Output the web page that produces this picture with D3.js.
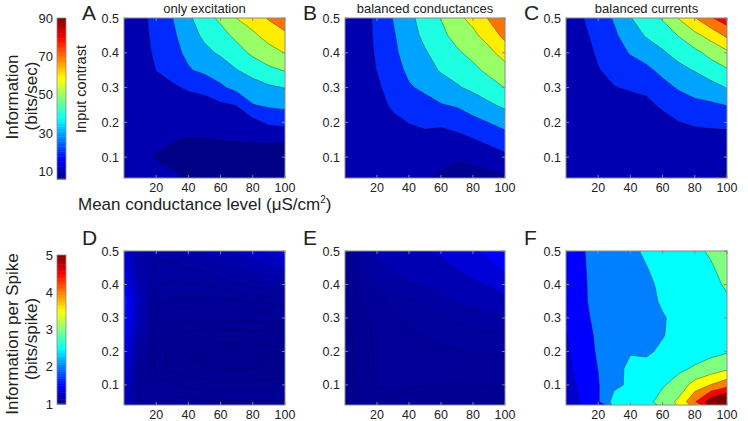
<!DOCTYPE html>
<html><head><meta charset="utf-8">
<script src="https://cdn.jsdelivr.net/npm/d3@7"></script>
<style>
body{margin:0;background:#fff}
svg{display:block}
text{font-family:"Liberation Sans",Arial,sans-serif;fill:#222}
</style>
</head><body>
<svg id="c" width="748" height="421"></svg>
<script>
// ---------------- data ----------------
const xGrid = [0,10,20,30,40,50,60,70,80,90,100];           // mean conductance (uS/cm2)
const yGrid = [0.05,0.1,0.15,0.2,0.25,0.3,0.35,0.4,0.45,0.5]; // input contrast
// each inner array = one x column, values from y=0.05 up to y=0.5
const rateExcitation = [
  [11.5,11.5,11.5,11.5,11.5,11.5,11.5,12,12,12],
  [12,11.5,12,12.5,13,13.5,15,16.5,17,17],
  [11.5,9.8,11,13,15,17,20.2,21.5,22.5,23.5],
  [10.8,8.5,10.5,13,15.5,19,22.5,26.5,28,29.8],
  [9.5,8.2,9.6,13,16.5,21,29,32.5,35.5,38],
  [6.5,8,9.7,13.5,17.5,22,32.5,37.5,42,46],
  [6.5,8,10.2,14,18.5,28.5,34.5,41.5,46.5,52],
  [6.5,8,10.3,15,20.4,33,39.7,46,52.5,60.2],
  [6.5,8,10.5,17,29.6,36,43.5,52,58,65],
  [7,8,10.5,22,31.5,38.5,48,56,64,71],
  [7,8,10.5,23,32.6,40.3,50.6,60.3,68,76]
];
const rateConductances = [
  [12,12,12,12,12,12,12,12,12,12],
  [11.5,12,12.5,13,13.5,14,14,14,14,14],
  [12,13,14,15.5,17,18.5,20.3,21.5,22.5,23],
  [12,13.5,15.5,18,21.5,24,26,28,29,30.3],
  [12,14,17,20.3,24.5,29,32,34,35.5,37],
  [11,13,17,22,26.5,32,36,39,42.5,45],
  [9.5,12,16.5,21.5,29.5,35,41,44.5,47.5,50.3],
  [7.5,11,17,24,31,39,43.5,48.5,53.5,58],
  [7.5,12.5,19.5,27,35,42,47.5,53,58,62.5],
  [8.5,15,22.5,30.2,38.5,45.5,52.5,57.5,64,71],
  [10.2,18,25.5,33.5,42,50.2,56.5,64,73,79]
];
const rateCurrents = [
  [11,11,11,11,11,11,11,11,11,11],
  [11,11,11.5,12,12.5,13.5,14.5,16,17.5,19.5],
  [11,11.5,12,13,14.5,16.5,19.5,21.5,23.5,25],
  [11,11.5,12.5,14,16.5,19.7,23,26,28.5,31],
  [10.5,11.5,12.5,14,16.5,21,25.5,30.7,35,39.5],
  [10.5,11.5,12.5,14.5,17.5,22.5,28,34,41,46],
  [10.5,11.5,13,16,22,27,32.5,39,44,51],
  [10.5,12,14.5,19.8,25,31,37.5,43,50.5,60.5],
  [10.5,12,15.5,21.5,27.5,34,40.5,47.5,57.5,69.5],
  [10.3,12,15.5,22.5,28.5,36.5,45,53,63.5,79],
  [9.5,11.5,15,23.5,30.3,40.3,49,58,72,86]
];
const spikeExcitation = [
  [1.3,1.34,1.4,1.48,1.56,1.64,1.68,1.58,1.45,1.35],
  [1.12,1.11,1.125,1.15,1.19,1.25,1.26,1.22,1.18,1.17],
  [1.10,1.09,1.08,1.082,1.09,1.10,1.11,1.122,1.13,1.15],
  [1.10,1.086,1.072,1.07,1.078,1.09,1.10,1.118,1.13,1.155],
  [1.098,1.082,1.068,1.063,1.072,1.087,1.10,1.118,1.141,1.18],
  [1.097,1.08,1.066,1.061,1.07,1.087,1.10,1.121,1.145,1.21],
  [1.096,1.079,1.064,1.06,1.07,1.087,1.102,1.125,1.165,1.24],
  [1.096,1.079,1.064,1.06,1.07,1.088,1.104,1.135,1.19,1.26],
  [1.096,1.079,1.064,1.06,1.071,1.089,1.106,1.145,1.22,1.28],
  [1.096,1.08,1.066,1.061,1.072,1.09,1.108,1.152,1.24,1.33],
  [1.096,1.08,1.066,1.062,1.073,1.091,1.11,1.158,1.26,1.42]
];
const spikeConductances = [
  [1.060,1.062,1.063,1.064,1.066,1.068,1.070,1.071,1.072,1.073],
  [1.078,1.082,1.083,1.084,1.086,1.09,1.10,1.11,1.13,1.16],
  [1.086,1.097,1.098,1.098,1.10,1.10,1.11,1.13,1.17,1.22],
  [1.088,1.099,1.102,1.104,1.106,1.11,1.12,1.16,1.23,1.27],
  [1.086,1.097,1.101,1.106,1.112,1.12,1.13,1.19,1.25,1.29],
  [1.084,1.096,1.102,1.108,1.116,1.122,1.14,1.21,1.27,1.34],
  [1.083,1.094,1.103,1.112,1.12,1.13,1.18,1.24,1.30,1.38],
  [1.083,1.094,1.104,1.114,1.122,1.14,1.21,1.27,1.36,1.42],
  [1.083,1.094,1.105,1.116,1.125,1.16,1.23,1.32,1.41,1.48],
  [1.083,1.096,1.106,1.117,1.128,1.18,1.25,1.36,1.46,1.54],
  [1.083,1.096,1.107,1.118,1.13,1.19,1.31,1.42,1.53,1.62]
];
const spikeCurrents = [
  [1.3,1.32,1.36,1.42,1.48,1.55,1.6,1.62,1.62,1.62],
  [1.55,1.62,1.75,1.8,1.8,1.8,1.8,1.8,1.85,1.9],
  [1.95,1.97,2.01,2.05,2.09,2.2,2.4,2.45,2.45,2.43],
  [2.7,2.4,2.35,2.3,2.3,2.3,2.3,2.3,2.3,2.3],
  [2.75,2.58,2.6,2.47,2.45,2.4,2.35,2.35,2.38,2.42],
  [2.85,2.75,2.6,2.45,2.4,2.38,2.38,2.4,2.49,2.56],
  [3.2,2.95,2.75,2.56,2.48,2.47,2.55,2.6,2.62,2.65],
  [3.6,3.2,2.9,2.7,2.62,2.6,2.62,2.66,2.7,2.75],
  [4.45,3.7,3.05,2.8,2.7,2.7,2.72,2.78,2.85,2.92],
  [5.3,4.02,3.2,2.88,2.8,2.8,2.85,2.9,2.96,3.05],
  [5.8,4.3,3.4,2.95,2.85,2.88,2.95,3.05,3.15,3.25]
];
// contour levels
const rateLevels = [10,20,30,40,50,60,70,80];
const spikeLevelsExc = [1.065,1.075,1.085,1.095,1.105,1.12,1.14,1.16,1.2,1.25,1.3,1.4,1.5,1.6];
const spikeLevelsCond = [1.075,1.095,1.115,1.135,1.2,1.35,1.5];
const spikeLevelsCurr = [1.5,2,2.5,3,3.5,4,4.5,5];
// colour ranges and tick labels
const rateRange = [6,90];
const spikeRange = [1,5];
const rateTicks = [10,30,50,70,90];
const spikeTicks = [1,2,3,4,5];
const xTicks = [20,40,60,80,100];
const yTicks = [0.1,0.2,0.3,0.4,0.5];
const titles = ["only excitation","balanced conductances","balanced currents"];
const letters = ["A","B","C","D","E","F"];

// ---------------- drawing ----------------
const svg = d3.select("#c");
const jet = d3.scaleLinear()
  .domain([0,0.125,0.375,0.625,0.875,1])
  .range(["#000080","#0000ff","#00ffff","#ffff00","#ff0000","#800000"])
  .clamp(true);
const frameColor = "#8a8a8a";

const colX = [[124,285],[345,505],[566,727]];
const rowY = [[18,178],[251,405]];

const panels = [
  {data:rateExcitation, levels:rateLevels, range:rateRange, c:0, r:0, lo:0.55},
  {data:rateConductances, levels:rateLevels, range:rateRange, c:1, r:0, lo:0.55},
  {data:rateCurrents, levels:rateLevels, range:rateRange, c:2, r:0, lo:0.55},
  {data:spikeExcitation, levels:spikeLevelsExc, range:spikeRange, c:0, r:1, lo:0.3},
  {data:spikeConductances, levels:spikeLevelsCond, range:spikeRange, c:1, r:1, lo:0.3},
  {data:spikeCurrents, levels:spikeLevelsCurr, range:spikeRange, c:2, r:1, lo:0.55}
];

const defs = svg.append("defs");

panels.forEach((p, k) => {
  const [x0,x1] = colX[p.c], [y0,y1] = rowY[p.r];
  const xs = d3.scaleLinear().domain([0,100]).range([x0,x1]);
  const ys = d3.scaleLinear().domain([0.04,0.5]).range([y1,y0]);
  const nx = xGrid.length, ny = yGrid.length;
  const values = [];
  for (let j = 0; j < ny; j++) for (let i = 0; i < nx; i++) values.push(p.data[i][j]);
  const sx = xGrid[1]-xGrid[0], sy = yGrid[1]-yGrid[0];
  const proj = d3.geoTransform({point(x,y){
    this.stream.point(xs(xGrid[0]+(x-0.5)*sx), ys(yGrid[0]+(y-0.5)*sy));
  }});
  const path = d3.geoPath(proj);
  const color = v => jet((v - p.range[0])/(p.range[1]-p.range[0]));
  const id = "clip"+k;
  defs.append("clipPath").attr("id",id).append("rect")
    .attr("x",x0).attr("y",y0).attr("width",x1-x0).attr("height",y1-y0);
  const g = svg.append("g").attr("clip-path",`url(#${id})`);
  g.append("rect").attr("x",x0).attr("y",y0).attr("width",x1-x0).attr("height",y1-y0)
    .attr("fill",color(d3.min(values)));
  const contours = d3.contours().size([nx,ny]).thresholds(p.levels)(values);
  g.selectAll("path").data(contours).join("path")
    .attr("d",path)
    .attr("fill",d=>color(d.value))
    .attr("stroke","#000").attr("stroke-opacity",p.lo).attr("stroke-width",0.6)
    .attr("stroke-linejoin","round");

  svg.append("rect").attr("x",x0).attr("y",y0).attr("width",x1-x0).attr("height",y1-y0)
    .attr("fill","none").attr("stroke",frameColor).attr("stroke-width",1);
  const ax = svg.append("g");
  xTicks.forEach(t=>{
    const x = xs(t);
    ax.append("line").attr("x1",x).attr("x2",x).attr("y1",y1).attr("y2",y1-3).attr("stroke",frameColor);
    ax.append("line").attr("x1",x).attr("x2",x).attr("y1",y0).attr("y2",y0+3).attr("stroke",frameColor);
    ax.append("text").attr("x",x).attr("y",y1+14).attr("text-anchor","middle")
      .attr("font-size",12.5).text(t);
  });
  yTicks.forEach(t=>{
    const y = ys(t);
    ax.append("line").attr("x1",x0).attr("x2",x0+3).attr("y1",y).attr("y2",y).attr("stroke",frameColor);
    ax.append("line").attr("x1",x1).attr("x2",x1-3).attr("y1",y).attr("y2",y).attr("stroke",frameColor);
    ax.append("text").attr("x",x0-5).attr("y",y+4.5).attr("text-anchor","end")
      .attr("font-size",12.5).text(d3.format(".1f")(t));
  });
  svg.append("text").attr("x",x0-42).attr("y",p.r===0?20:245)
    .attr("font-size",21).text(letters[k]);
  if (p.r===0) {
    svg.append("text").attr("x",(x0+x1)/2).attr("y",13).attr("text-anchor","middle")
      .attr("font-size",13).text(titles[p.c]);
  }
});

// colorbars
function colorbar(range, ticks, y0, y1) {
  const x0 = 57, w = 9;
  const ys = d3.scaleLinear().domain(range).range([y1,y0]);
  const n = 64, step = (range[1]-range[0])/n;
  const bins = d3.range(n).map(i => range[0] + i*step);
  svg.append("g").selectAll("rect").data(bins).join("rect")
    .attr("x",x0).attr("width",w)
    .attr("y",d=>ys(d+step)).attr("height",d=>ys(d)-ys(d+step)+0.5)
    .attr("fill",d=>jet((d+step/2-range[0])/(range[1]-range[0])));
  svg.append("rect").attr("x",x0).attr("y",y0).attr("width",w).attr("height",y1-y0)
    .attr("fill","none").attr("stroke",frameColor).attr("stroke-width",0.8);
  ticks.forEach(t=>{
    svg.append("text").attr("x",x0-4).attr("y",ys(t)+4.5).attr("text-anchor","end")
      .attr("font-size",13).text(t);
  });
}
colorbar(rateRange, rateTicks, 18, 179);
colorbar(spikeRange, spikeTicks, 255, 404);

function vtext(x, y, size, str) {
  svg.append("text").attr("transform",`translate(${x},${y}) rotate(-90)`)
    .attr("text-anchor","middle").attr("font-size",size).text(str);
}
vtext(18, 97, 17, "Information");
vtext(37, 96, 17, "(bits/sec)");
vtext(86, 89, 14.5, "Input contrast");
vtext(18, 334, 17, "Information per Spike");
vtext(37, 339, 17, "(bits/spike)");

const xl = svg.append("text").attr("x",78).attr("y",210).attr("font-size",17);
xl.append("tspan").text("Mean conductance level (μS/cm");
xl.append("tspan").attr("font-size",10).attr("dy",-7).text("2");
xl.append("tspan").attr("dy",7).text(")");
</script>
</body></html>
